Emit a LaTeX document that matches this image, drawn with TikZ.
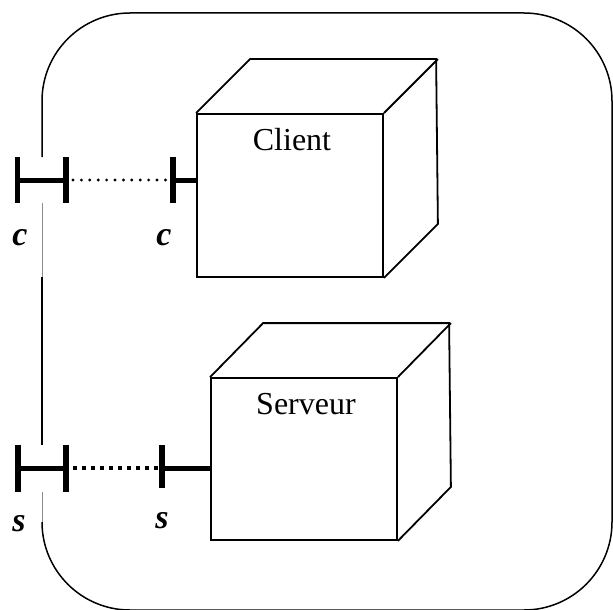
\documentclass[tikz,border=0pt]{standalone}
\usepackage{fontspec}
\setmainfont{Liberation Serif}
\usetikzlibrary{calc}
\begin{document}
\begin{tikzpicture}[x=1pt,y=-1pt,
  frame/.style={line width=1.5pt},
  frameseg/.style={line width=0.8pt,draw=black!45},
  face/.style={draw,line width=1.8pt,minimum width=186pt,inner sep=0pt},
  edge3d/.style={line width=1.8pt,line join=miter},
  bar/.style={line width=5.5pt},
  wire/.style={line width=5pt},
  dotsc/.style={line width=3.2pt,line cap=round,dash pattern=on 0pt off 8.4pt},
  dotss/.style={line width=4pt,dash pattern=on 4pt off 5pt},
  title/.style={font=\fontsize{32}{38}\selectfont,inner sep=0pt},
  portlabel/.style={font=\fontsize{34}{40}\selectfont\bfseries\itshape,inner sep=0pt}]
\useasboundingbox (0,0) rectangle (613,610);

% enclosing component
\draw[frame,rounded corners=88pt] (42,157) -- (42,13) -- (612,13) -- (612,610) -- (42,610) -- (42,522);
\draw[frameseg] (42,203) -- (42,277);
\draw[line width=1.2pt] (42,277) -- (42,445);
\draw[frameseg] (42,492) -- (42,522);

% Client node (cube)
\node[face,minimum height=163pt] (cli) at (290,195.5) {};
\draw[edge3d] (cli.north west) -- ++(54,-54) -- ++(186,0) -- ($(cli.south east)+(54,-54)$) -- (cli.south east);
\draw[edge3d] (cli.north east) -- ++(54,-54);
\node[title] (clitxt) at (292,140) {Client};

% Serveur node (cube)
\node[face,minimum height=162pt] (srv) at (304,459) {};
\draw[edge3d] (srv.north west) -- ++(53,-54) -- ++(186,0) -- ($(srv.south east)+(53,-54)$) -- (srv.south east);
\draw[edge3d] (srv.north east) -- ++(53,-54);
\node[title] (srvtxt) at (306,404) {Serveur};

% ports on the outer boundary
\coordinate (pc1) at (17.5,180);
\coordinate (pc2) at (66,180);
\coordinate (pc3) at (173,180);
\coordinate (ps1) at (18,468);
\coordinate (ps2) at (66,468);
\coordinate (ps3) at (162,468);

% client port pair
\draw[bar] ($(pc1)+(0,-23)$) -- ($(pc1)+(0,23)$);
\draw[bar] ($(pc2)+(0,-23)$) -- ($(pc2)+(0,23)$);
\draw[wire] (pc1) -- (pc2);
\draw[bar] ($(pc3)+(0,-23)$) -- ($(pc3)+(0,23)$);
\draw[wire] (pc3) -- (cli.west |- pc3);
\draw[dotsc] ($(pc2)+(7,0)$) -- ($(pc3)+(-2,0)$);

% server port pair
\draw[bar] ($(ps1)+(0,-23.5)$) -- ($(ps1)+(0,23.5)$);
\draw[bar] ($(ps2)+(0,-23.5)$) -- ($(ps2)+(0,23.5)$);
\draw[wire] (ps1) -- (ps2);
\draw[bar] ($(ps3)+(0,-23)$) -- ($(ps3)+(0,20)$);
\draw[wire] (ps3) -- (srv.west |- ps3);
\draw[dotss] ($(ps2)+(7,0)$) -- ($(ps3)+(-2,0)$);

% port names
\node[portlabel] (lc1) at (20,238) {c};
\node[portlabel] (lc2) at (164,238) {c};
\node[portlabel] (ls1) at (19,524) {s};
\node[portlabel] (ls2) at (162,521) {s};
\end{tikzpicture}
\end{document}
